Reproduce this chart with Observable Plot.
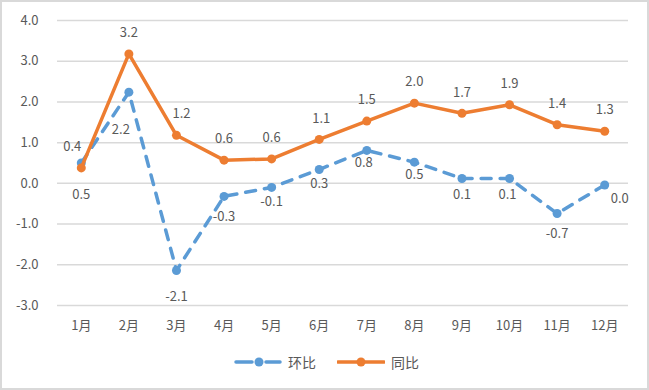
<!DOCTYPE html>
<html><head><meta charset="utf-8">
<script src="https://cdn.jsdelivr.net/npm/d3@7"></script>
<script src="https://cdn.jsdelivr.net/npm/@observablehq/plot@0.6"></script>
<style>
body{margin:0;background:#fff;}
#wrap{position:relative;width:649px;height:390px;font-family:"Noto Sans CJK SC","Noto Sans",sans-serif;color:#595959;background:#fff;}
#frame{position:absolute;left:0;top:0;width:649px;height:390px;box-sizing:border-box;border:2px solid #d9d9d9;pointer-events:none;}
#legend{position:absolute;top:352px;left:234px;height:20px;display:flex;align-items:center;font-size:14px;color:#595959;}
#legend .item{display:flex;align-items:center;}
#legend span{margin-left:6px;}
</style>
</head><body>
<div id="wrap"><div id="chart"></div><div id="legend"></div><div id="frame"></div></div>
<script>
const months = ["1月","2月","3月","4月","5月","6月","7月","8月","9月","10月","11月","12月"];
const huanbi = [0.5, 2.24, -2.14, -0.32, -0.1, 0.34, 0.81, 0.52, 0.12, 0.12, -0.74, -0.04];
const tongbi = [0.38, 3.18, 1.18, 0.57, 0.6, 1.08, 1.53, 1.97, 1.72, 1.93, 1.44, 1.28];
const yTicks = [-3, -2, -1, 0, 1, 2, 3, 4];
const seriesNames = ["环比", "同比"];

const blue = "#5B9BD5", orange = "#ED7D31";
const fmt = v => (Math.round(v * 10) / 10).toFixed(1);

const hbData = months.map((m, i) => ({month: m, v: huanbi[i]}));
const tbData = months.map((m, i) => ({month: m, v: tongbi[i]}));

// label offsets (styling)
const hbDx = [0, -8, 0, 0, 0, 0, -3, 0, 0, -2, 0, 15];
const hbDy = [32, 38, 26, 20, 14, 14, 12, 13, 16, 16, 20, 14];
const tbDx = [-9, 0, 5, 0, 0, 2, 0, 0, 0, 0, 0, 0];
const tbDy = -21;

const labelMarks = [
  ...hbData.map((d, i) => Plot.text([d], {x: "month", y: "v", text: d => fmt(d.v), dx: hbDx[i], dy: hbDy[i], fill: "#595959", fontSize: 13})),
  ...tbData.map((d, i) => Plot.text([d], {x: "month", y: "v", text: d => fmt(d.v), dx: tbDx[i], dy: tbDy, fill: "#595959", fontSize: 13}))
];

const chart = Plot.plot({
  width: 649,
  height: 345,
  marginTop: 20,
  marginBottom: 40,
  marginLeft: 57,
  marginRight: 21,
  style: {fontFamily: '"Noto Sans CJK SC","Noto Sans",sans-serif', fontSize: "13px", color: "#595959", background: "transparent"},
  x: {type: "point", domain: months, padding: 0.5, round: false, label: null},
  y: {domain: [-3, 4], label: null},
  marks: [
    Plot.ruleY(yTicks, {stroke: "#d9d9d9", strokeWidth: 1.5}),
    Plot.axisY(yTicks, {tickSize: 0, tickPadding: 19, tickFormat: d => d.toFixed(1), fontSize: 13, label: null}),
    Plot.axisX({tickSize: 0, tickPadding: 15, fontSize: 13, label: null}),
    ...labelMarks,
    Plot.line(hbData, {x: "month", y: "v", stroke: blue, strokeWidth: 3.5, strokeDasharray: "10,9", strokeLinecap: "round"}),
    Plot.dot(hbData, {x: "month", y: "v", r: 4.5, fill: blue}),
    Plot.line(tbData, {x: "month", y: "v", stroke: orange, strokeWidth: 3.5, strokeLinecap: "round"}),
    Plot.dot(tbData, {x: "month", y: "v", r: 4.5, fill: orange})
  ]
});
document.getElementById("chart").appendChild(chart);

const legend = document.getElementById("legend");
legend.innerHTML =
  `<div class="item"><svg width="48" height="12"><line x1="2" y1="6" x2="18" y2="6" stroke="${blue}" stroke-width="3.5" stroke-linecap="round"/><line x1="32" y1="6" x2="46" y2="6" stroke="${blue}" stroke-width="3.5" stroke-linecap="round"/><circle cx="25" cy="6" r="4.5" fill="${blue}"/></svg><span>${seriesNames[0]}</span></div>` +
  `<div class="item" style="margin-left:21px"><svg width="48" height="12"><line x1="1" y1="6" x2="47" y2="6" stroke="${orange}" stroke-width="3.5" stroke-linecap="round"/><circle cx="24" cy="6" r="4.5" fill="${orange}"/></svg><span>${seriesNames[1]}</span></div>`;
</script>
</body></html>
